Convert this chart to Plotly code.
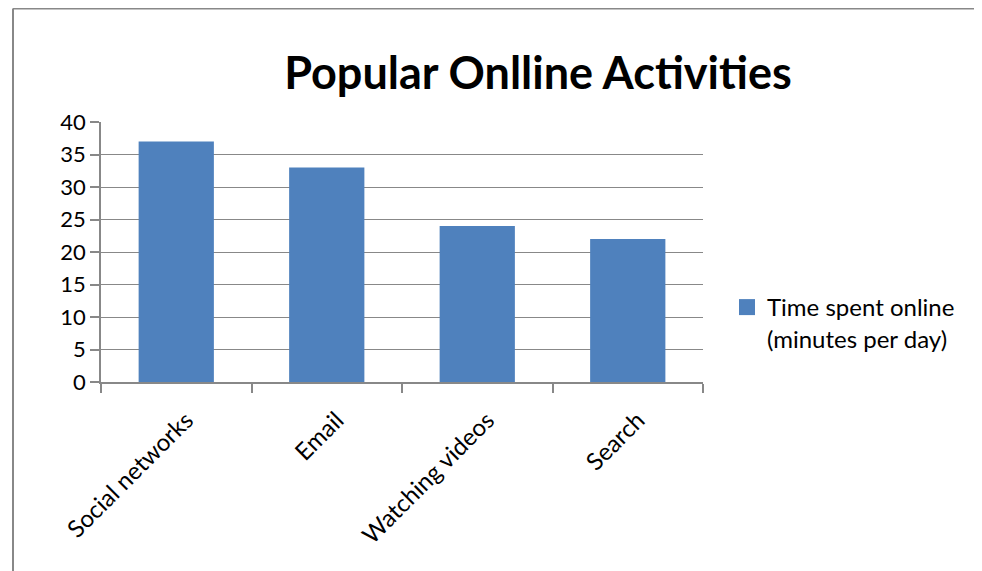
import plotly.graph_objects as go

categories = ["Social networks", "Email", "Watching videos", "Search"]
values = [37, 33, 24, 22]
series_name = "Time spent online<br>(minutes per day)"
y_ticks = [0, 5, 10, 15, 20, 25, 30, 35, 40]
bar_color = "#4F81BD"

W, H = 982, 571
OFF = 8  # page offset of the plot div
ml, mr, mt, mb = 101 - OFF, W - (703 - OFF), 122 - OFF, H - (382 - OFF)

fig = go.Figure()
fig.add_trace(go.Bar(
    x=categories, y=values, name=series_name,
    marker=dict(color=bar_color, line=dict(width=0)),
    showlegend=False, legendgroup="s",
))
# legend entry with a larger square swatch
fig.add_trace(go.Scatter(
    x=[None], y=[None], mode="markers", name=series_name, legendgroup="s",
    marker=dict(symbol="square", size=16, color=bar_color, line=dict(width=0)),
    showlegend=True,
))

font_family = "Lato, Open Sans, sans-serif"

fig.update_layout(
    width=W, height=H,
    margin=dict(l=ml, r=mr, t=mt, b=mb, pad=0),
    paper_bgcolor="white", plot_bgcolor="white",
    bargap=0.5,
    showlegend=True,
    title=dict(text="<b>Popular Onlline Activities</b>", x=(538 - OFF) / W, xanchor="center",
               y=1 - (73 - OFF) / H, yanchor="middle",
               font=dict(family=font_family, size=45, color="black")),
    legend=dict(x=(727 - OFF) / W, xanchor="left", y=1 - (285 - OFF) / H, yanchor="top",
                xref="container", yref="container", valign="top",
                font=dict(family=font_family, size=24, color="black"),
                bgcolor="rgba(0,0,0,0)"),
    font=dict(family=font_family, size=22, color="black"),
)

fig.update_yaxes(
    range=[0, 40], tickvals=y_ticks, showgrid=True, gridcolor="#888888", gridwidth=1,
    showline=True, linecolor="#888888", linewidth=1.5,
    ticks="outside", ticklen=9, tickcolor="#888888", tickwidth=1.5,
    tickfont=dict(family=font_family, size=22, color="black"), zeroline=False,
)
fig.update_xaxes(
    showline=True, linecolor="#888888", linewidth=1.5,
    ticks="outside", ticklen=9, tickcolor="#888888", tickwidth=1.5,
    tickson="boundaries", tickangle=-45, ticklabelstandoff=13, ticklabelshift=10,
    tickfont=dict(family=font_family, size=24, color="black"), showgrid=False,
)

# outer chart border (top and left visible)
pw, ph = W - ml - mr, H - mt - mb
fig.add_shape(type="line", xref="paper", yref="paper",
              x0=(13 - OFF - ml) / pw, x1=(W + 5 - ml) / pw,
              y0=1 + (mt - 0.5) / ph, y1=1 + (mt - 0.5) / ph,
              line=dict(color="#888888", width=2))
fig.add_shape(type="line", xref="paper", yref="paper",
              x0=(13 - OFF - ml) / pw, x1=(13 - OFF - ml) / pw,
              y0=1 + (mt - 0.5) / ph, y1=-(mb + 5) / ph,
              line=dict(color="#888888", width=2))

fig.write_html("out.html")
